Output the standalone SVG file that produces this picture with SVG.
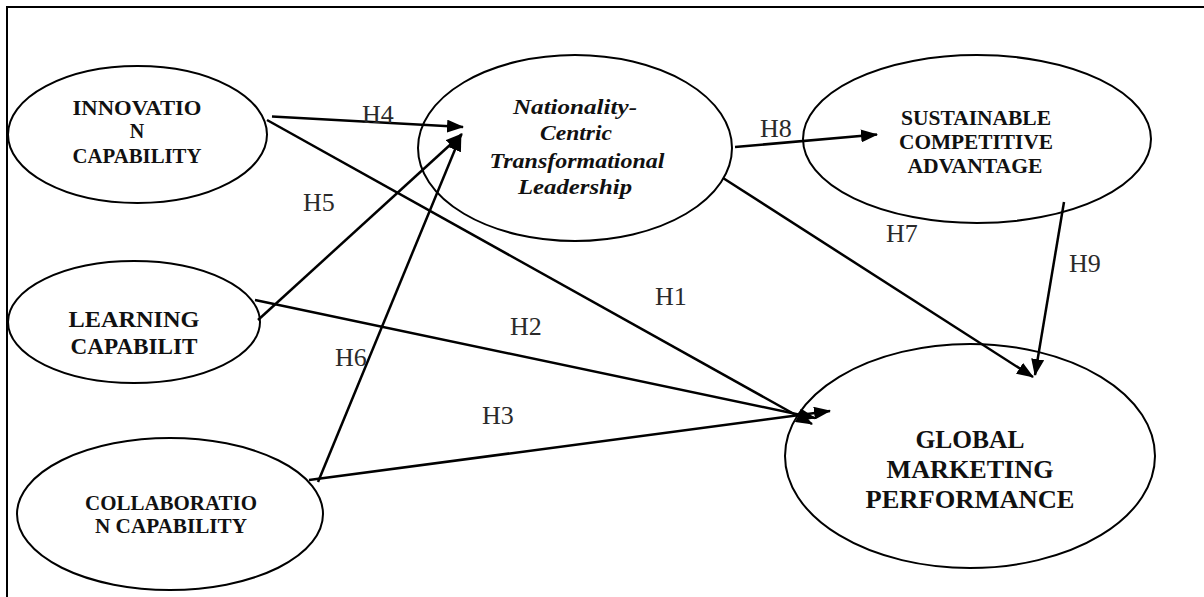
<svg xmlns="http://www.w3.org/2000/svg" width="1204" height="597" viewBox="0 0 1204 597">
<defs>
<marker id="arr" markerUnits="userSpaceOnUse" markerWidth="17" markerHeight="13" refX="16" refY="6.5" orient="auto">
<path d="M0,0 L17,6.5 L0,13 Z" fill="#000"/>
</marker>
<style>
.node ellipse{fill:#fff;stroke:#000;stroke-width:2}
.lbl{font-family:"Liberation Serif","Times New Roman",serif;font-weight:bold;fill:#111;text-anchor:middle}
.it{font-style:italic}
.h{font-family:"Liberation Serif","Times New Roman",serif;font-size:26px;fill:#2a2a2a}
.edges line{stroke:#000;stroke-width:2.5;marker-end:url(#arr)}
</style>
</defs>
<rect width="1204" height="597" fill="#fff"/>
<path d="M7,597 L7,7 L1204,7" fill="none" stroke="#000" stroke-width="2"/>

<g id="node-innovation" class="node">
<ellipse cx="137.5" cy="134.5" rx="129.5" ry="68.5"/>
<text class="lbl" font-size="20" x="137" y="115" textLength="129" lengthAdjust="spacingAndGlyphs">INNOVATIO</text>
<text class="lbl" font-size="20" x="137" y="138">N</text>
<text class="lbl" font-size="20" x="137" y="163" textLength="129" lengthAdjust="spacingAndGlyphs">CAPABILITY</text>
</g>
<g id="node-learning" class="node">
<ellipse cx="134" cy="322" rx="126" ry="61"/>
<text class="lbl" font-size="24" x="134" y="327" textLength="131" lengthAdjust="spacingAndGlyphs">LEARNING</text>
<text class="lbl" font-size="24" x="134" y="354" textLength="127" lengthAdjust="spacingAndGlyphs">CAPABILIT</text>
</g>
<g id="node-collaboration" class="node">
<ellipse cx="170" cy="514" rx="153" ry="76"/>
<text class="lbl" font-size="21" x="171" y="510" textLength="172" lengthAdjust="spacingAndGlyphs">COLLABORATIO</text>
<text class="lbl" font-size="21" x="171" y="533" textLength="152" lengthAdjust="spacingAndGlyphs">N CAPABILITY</text>
</g>
<g id="node-leadership" class="node">
<ellipse cx="575" cy="148" rx="157" ry="93"/>
<text class="lbl it" font-size="20" x="575" y="114" textLength="124" lengthAdjust="spacingAndGlyphs">Nationality-</text>
<text class="lbl it" font-size="20" x="576" y="140" textLength="72" lengthAdjust="spacingAndGlyphs">Centric</text>
<text class="lbl it" font-size="20" x="577" y="168" textLength="175" lengthAdjust="spacingAndGlyphs">Transformational</text>
<text class="lbl it" font-size="20" x="575" y="194" textLength="114" lengthAdjust="spacingAndGlyphs">Leadership</text>
</g>
<g id="node-sca" class="node">
<ellipse cx="977" cy="139" rx="174" ry="84"/>
<text class="lbl" font-size="20" x="976" y="125" textLength="150" lengthAdjust="spacingAndGlyphs">SUSTAINABLE</text>
<text class="lbl" font-size="20" x="976" y="149" textLength="154" lengthAdjust="spacingAndGlyphs">COMPETITIVE</text>
<text class="lbl" font-size="20" x="975" y="173" textLength="135" lengthAdjust="spacingAndGlyphs">ADVANTAGE</text>
</g>
<g id="node-gmp" class="node">
<ellipse cx="970" cy="456" rx="185" ry="112"/>
<text class="lbl" font-size="25" x="970" y="448" textLength="109" lengthAdjust="spacingAndGlyphs">GLOBAL</text>
<text class="lbl" font-size="25" x="970" y="478" textLength="167" lengthAdjust="spacingAndGlyphs">MARKETING</text>
<text class="lbl" font-size="25" x="970" y="508" textLength="209" lengthAdjust="spacingAndGlyphs">PERFORMANCE</text>
</g>

<g id="connectors" class="edges">
<line x1="272" y1="116.5" x2="463" y2="127"/>
<line x1="267" y1="120" x2="812" y2="424"/>
<line x1="255" y1="300" x2="815" y2="418"/>
<line x1="309" y1="480" x2="830" y2="411"/>
<line x1="258" y1="320" x2="462" y2="134"/>
<line x1="318" y1="482" x2="461" y2="135"/>
<line x1="735" y1="147" x2="877" y2="134.5"/>
<line x1="723" y1="178" x2="1033" y2="377"/>
<line x1="1064" y1="202" x2="1035" y2="375"/>
</g>

<g id="labels">
<text class="h" x="362" y="123">H4</text>
<text class="h" x="303" y="211">H5</text>
<text class="h" x="760" y="137">H8</text>
<text class="h" x="886" y="242">H7</text>
<text class="h" x="1069" y="272">H9</text>
<text class="h" x="655" y="305">H1</text>
<text class="h" x="510" y="335">H2</text>
<text class="h" x="482" y="424">H3</text>
<text class="h" x="335" y="366">H6</text>
</g>
</svg>
